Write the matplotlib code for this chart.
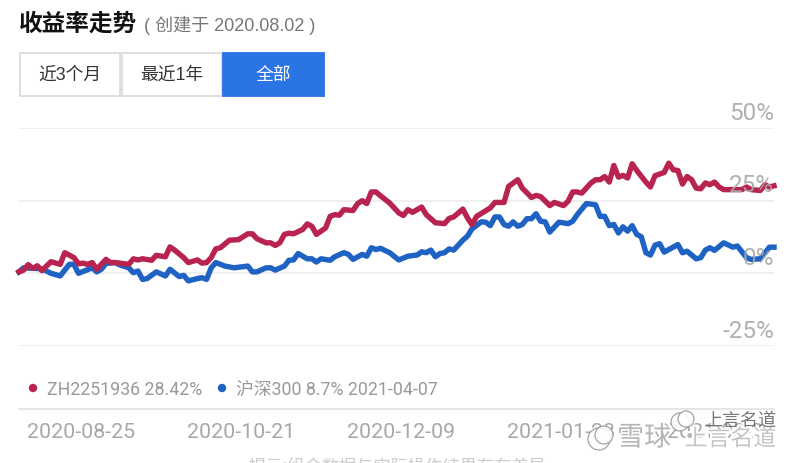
# Built-in modules #

# Third party modules #
import matplotlib
matplotlib.use('Agg')
from matplotlib import pyplot, patheffects
from matplotlib.patches import Rectangle, Circle

# Constants #
pyplot.rcParams['font.family'] = ['Noto Sans CJK SC', 'DejaVu Sans']
mixed_font = ['Liberation Sans', 'Noto Sans CJK SC']
red_color  = '#b8244f'
blue_color = '#1e63c4'
grey_text  = '#a8a8a8'

# Data #
red_days = [0, 1, 2, 3, 4, 5, 6, 7, 9, 10, 12, 13, 14, 15, 16, 17, 19, 20, 21, 24, 25, 26, 27, 29, 30, 32, 33, 34,
            36, 37, 39, 40, 41, 42, 43, 44, 46, 48, 50, 51, 52, 54, 55, 56, 57, 58, 59, 60, 62, 63, 64, 65, 67, 68,
            69, 70, 71, 73, 74, 75, 76, 77, 78, 79, 81, 82, 83, 84, 85, 86, 88, 89, 91, 93, 94, 95, 97, 98, 99, 100,
            103, 104, 106, 107, 109, 110, 112, 113, 114, 116, 117, 119, 120, 121, 122, 123, 125, 126, 127, 128, 129,
            130, 131, 132, 133, 134, 135, 137, 138, 139, 141, 142, 143, 144, 145, 146, 147, 148, 149, 150, 151, 152,
            153, 154, 158, 159, 160, 162, 163, 164, 165]
red_vals = [0.5, 1.1, 3.0, 1.7, 2.6, 0.9, 2.5, 4.0, 3.1, 7.1, 5.4, 3.3, 3.5, 3.1, 3.7, 1.4, 4.8, 3.7, 3.7, 3.1, 5.0,
            4.6, 5.0, 4.5, 6.2, 5.7, 9.1, 8.0, 5.4, 3.7, 4.6, 3.5, 3.7, 5.4, 8.4, 8.8, 11.4, 11.6, 13.6, 13.6, 11.9,
            10.5, 10.5, 9.6, 10.5, 13.4, 13.8, 13.6, 15.1, 17.0, 16.2, 13.4, 15.6, 19.6, 20.2, 20.0, 21.9, 21.6, 24.0,
            25.0, 24.0, 28.0, 28.0, 26.7, 24.2, 22.5, 20.8, 19.9, 21.9, 21.0, 22.8, 20.2, 17.4, 17.1, 18.9, 19.4,
            22.1, 19.1, 16.7, 19.6, 22.5, 24.4, 24.4, 29.9, 32.2, 29.3, 26.1, 26.8, 26.4, 23.3, 24.4, 23.3, 24.8,
            28.0, 28.0, 27.6, 31.1, 32.2, 32.2, 33.3, 31.4, 37.1, 33.1, 33.7, 32.8, 37.7, 35.4, 31.4, 29.7, 33.6,
            34.7, 37.9, 35.6, 35.4, 30.7, 33.3, 32.2, 29.3, 29.1, 31.1, 30.5, 31.4, 29.7, 28.8, 28.8, 29.7, 28.8,
            28.5, 30.5, 29.7, 30.1]
blue_days = [0, 1, 2, 5, 7, 9, 11, 12, 13, 16, 17, 18, 19, 21, 22, 24, 25, 26, 27, 28, 30, 32, 33, 35, 36, 37, 39,
             40, 41, 42, 43, 45, 47, 50, 51, 52, 54, 55, 56, 58, 59, 60, 61, 63, 64, 65, 66, 68, 69, 71, 72, 73, 75,
             76, 77, 78, 79, 81, 83, 85, 87, 88, 89, 90, 91, 92, 93, 94, 95, 97, 98, 99, 101, 102, 103, 104, 105,
             106, 107, 108, 109, 110, 111, 112, 113, 114, 115, 116, 118, 120, 121, 122, 124, 126, 127, 128, 129, 130,
             131, 132, 133, 134, 135, 136, 137, 138, 139, 140, 141, 144, 145, 146, 148, 149, 150, 151, 152, 154, 156,
             157, 159, 160, 162, 164, 165]
blue_vals = [0.5, 1.9, 1.8, 1.6, 0.0, -0.9, 3.1, 3.1, 0.0, 1.9, 0.5, 1.4, 3.4, 3.7, 2.9, 1.9, 0.2, 0.8, -2.1, -1.8,
             0.5, -0.9, 1.4, -1.1, -0.7, -2.6, -1.8, -1.5, -2.1, 1.9, 3.7, 2.5, 1.9, 2.5, 0.5, 0.5, 1.9, 1.9, 1.1, 2.5,
             4.5, 4.6, 6.8, 5.0, 5.0, 3.9, 5.0, 4.5, 5.7, 7.1, 6.5, 4.8, 6.5, 5.9, 8.8, 8.2, 8.6, 7.1, 4.6, 5.9, 6.3,
             7.4, 7.1, 8.0, 5.7, 6.8, 7.1, 8.4, 8.0, 11.4, 12.8, 15.3, 17.7, 17.6, 16.4, 19.4, 19.4, 16.8, 16.2, 17.7,
             16.2, 16.8, 18.8, 18.8, 20.5, 17.9, 17.7, 14.2, 17.6, 17.1, 17.9, 20.2, 24.0, 23.6, 19.6, 19.6, 16.4, 16.8,
             13.9, 16.0, 14.5, 16.4, 13.4, 12.6, 7.1, 6.3, 9.7, 10.2, 7.3, 9.9, 7.1, 7.6, 5.0, 5.4, 8.0, 8.8, 7.9, 10.5,
             9.0, 9.4, 5.4, 4.8, 5.0, 9.0, 9.0]
y_ticks = [-25, 0, 25, 50]
y_labels = ['-25%', '0%', '25%', '50%']
x_ticks = [13.5, 48.5, 83.5, 118.5, 153.5]
x_labels = ['2020-08-25', '2020-10-21', '2020-12-09', '2021-01-28', '2021-03-24']
buttons = ['近3个月', '最近1年', '全部']

################################################################################
W, H = 800.0, 464.0
fig = pyplot.figure(figsize=(8, 4.64), dpi=100)
axes = fig.add_axes([19/W, (H-347)/H, 755/W, 218/H])

# Lines #
axes.plot(blue_days, blue_vals, color=blue_color, lw=3.9, solid_joinstyle='round', clip_on=False, zorder=3)
axes.plot(red_days, red_vals, color=red_color, lw=3.9, solid_joinstyle='round', clip_on=False, zorder=4)

# Axes #
axes.set_xlim(0, 165)
axes.set_ylim(-25, 50)
axes.yaxis.grid(True, color='#ececec', lw=1.2)
axes.set_axisbelow(True)
for spine in axes.spines.values(): spine.set_visible(False)
axes.tick_params(length=0)
axes.set_yticks(y_ticks)
axes.set_yticklabels([])
axes.set_xticks(x_ticks)
axes.set_xticklabels(x_labels, color=grey_text, fontsize=15.4, family='Roboto')
axes.tick_params(axis='x', pad=55)

# Y labels sit above the lines, inside the plot #
for v, label in zip(y_ticks, y_labels):
    axes.annotate(label, (165, v), xytext=(0, 3), textcoords='offset points', ha='right', va='bottom',
                  color=grey_text, fontsize=17.5, family='Roboto', zorder=6, alpha=0.9)

# Overlay drawn in pixels #
over = fig.add_axes([0, 0, 1, 1], zorder=5)
over.set_xlim(0, W)
over.set_ylim(H, 0)
over.axis('off')

# Title #
over.text(19, 24, '收益率走势', fontsize=17, weight='bold', color='#111111', va='center')
over.text(144, 25, '( 创建于 2020.08.02 )', fontsize=13, color='#777777', va='center', family=mixed_font)

# Buttons #
for x0, x1, label, active in ((19, 120, buttons[0], False), (121, 222, buttons[1], False), (222, 324, buttons[2], True)):
    face = '#2b74e4' if active else 'white'
    edge = '#2b74e4' if active else '#dcdcdc'
    over.add_patch(Rectangle((x0+0.5, 54), x1-x0-1, 42.5, fc=face, ec=edge, lw=1.3))
    over.text((x0+x1)/2, 75.5, label, fontsize=12.8, color='white' if active else '#333333', ha='center', va='center', family=mixed_font)

# Legend #
over.add_patch(Circle((33, 389), 4.2, fc=red_color, ec='none'))
over.text(47, 390, 'ZH2251936 28.42%', fontsize=12.8, color='#999999', va='center', family='Roboto')
over.add_patch(Circle((222, 389), 4.2, fc=blue_color, ec='none'))
over.text(236, 390, '沪深300 8.7% 2021-04-07', fontsize=12.8, color='#999999', va='center', family=['Roboto', 'Noto Sans CJK SC'])

# Bottom line and clipped footnote #
over.plot([19, 774], [410, 410], color='#e2e2e2', lw=1.2)
over.text(398, 467, '提示:组合数据与实际操作结果存在差异', fontsize=12.4, color='#cccccc', ha='center', va='center')

# Watermark, with a white halo that eats the tick labels below it #
halo = [patheffects.withStroke(linewidth=3, foreground='white')]
for cx, cy, r in ((599, 440, 11), (604, 436, 9), (680, 423, 9), (686, 420, 8)):
    over.add_patch(Circle((cx, cy), r, fc='white', ec='#999999', lw=0.9, alpha=0.9))
over.text(617, 439, '雪球', fontsize=19.5, color='#b5b5b5', va='center', path_effects=halo)
over.text(678, 439, '·', fontsize=17, color='#b5b5b5', va='center', path_effects=halo)
over.text(776, 440, '上言名道', fontsize=16.5, color='#c4c4c4', ha='right', va='center', path_effects=halo)
over.text(704, 421, '上言名道', fontsize=13, color='#777777', va='center')

fig.savefig('out.png', dpi=100)
